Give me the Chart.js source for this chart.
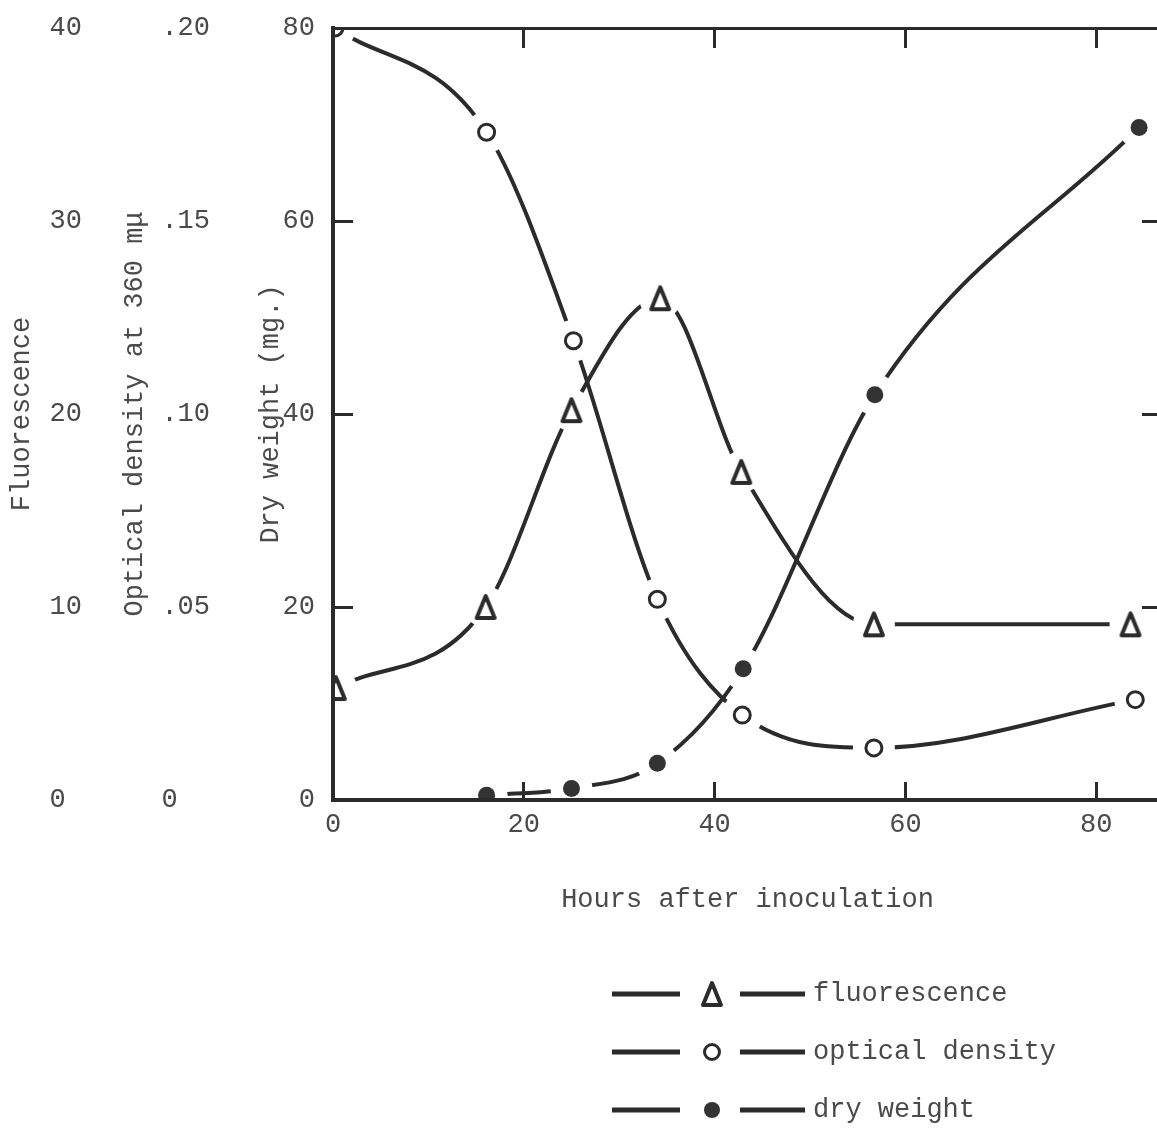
<!DOCTYPE html>
<html>
<head>
<meta charset="utf-8">
<script src="https://cdn.jsdelivr.net/npm/chart.js@4/dist/chart.umd.min.js"></script>
<style>
  html, body { margin: 0; padding: 0; background: #fff; overflow: hidden; }
  canvas { display: block; }
</style>
</head>
<body>
<canvas id="growth" width="1175" height="1131"></canvas>
<script>
// values
const hourTicks = [0, 20, 40, 60, 80];
const dryTicks = [0, 20, 40, 60, 80];
const fluorTicks = [0, 10, 20, 30, 40];
const odTicks = [0, 0.05, 0.10, 0.15, 0.20];

const fluorHours = [0.3, 16, 25, 34.3, 42.8, 56.7, 83.6];
const fluorValues = [5.8, 10, 20.2, 26, 17, 9.1, 9.1];
const odHours = [0.2, 16.1, 25.2, 34, 42.9, 56.7, 84.1];
const odValues = [0.2, 0.173, 0.119, 0.052, 0.022, 0.0135, 0.026];
const dryHours = [16.1, 25, 34, 43, 56.8, 84.5];
const dryValues = [0.5, 1.2, 3.8, 13.6, 42, 69.7];

const seriesNames = ['fluorescence', 'optical density', 'dry weight'];

const INK = '#2b2b2b';
const TEXT = '#4a4a4a';

function points(xs, ys) {
    return xs.map((x, i) => ({x: x, y: ys[i]}));
}

// tall open triangle like the typed delta
function makeTriangle() {
    const c = document.createElement('canvas');
    c.width = 24;
    c.height = 28;
    const g = c.getContext('2d');
    g.beginPath();
    g.moveTo(12, 3);
    g.lineTo(21, 25);
    g.lineTo(3, 25);
    g.closePath();
    g.fillStyle = '#fff';
    g.fill();
    g.lineWidth = 4;
    g.lineJoin = 'round';
    g.strokeStyle = INK;
    g.stroke();
    return c;
}
const triangle = makeTriangle();

const series = [
    {name: seriesNames[0], data: points(fluorHours, fluorValues), axis: 'yF',
        marker: {pointStyle: triangle, pointRadius: 11, pointBorderWidth: 0}},
    {name: seriesNames[1], data: points(odHours, odValues), axis: 'yOD',
        marker: {pointStyle: 'circle', pointRadius: 8, pointBorderWidth: 3, pointBackgroundColor: '#fff', pointBorderColor: INK}},
    {name: seriesNames[2], data: points(dryHours, dryValues), axis: 'y',
        marker: {pointStyle: 'circle', pointRadius: 8.5, pointBorderWidth: 0, pointBackgroundColor: '#333'}}
];

const datasets = [];
series.forEach(s => {
    datasets.push({label: s.name, data: s.data, yAxisID: s.axis, order: 2,
        borderColor: INK, borderWidth: 4, pointRadius: 0, cubicInterpolationMode: 'monotone'});
});
series.forEach(s => {
    // white halo so the curve breaks around each marker
    datasets.push({label: s.name + ' gap', data: s.data, yAxisID: s.axis, order: 1, showLine: false, clip: 0,
        pointRadius: 21, pointBorderWidth: 0, pointBackgroundColor: '#fff'});
});
series.forEach(s => {
    datasets.push(Object.assign({label: s.name + ' marker', data: s.data, yAxisID: s.axis, order: 0, showLine: false, clip: 0},
        s.marker));
});

function inwardTicks(len, skip) {
    return {
        drawOnChartArea: false, drawTicks: true, tickLength: len, lineWidth: 3, z: 1,
        color: c => (c.tick && skip.includes(c.tick.value)) ? 'rgba(0,0,0,0)' : INK
    };
}

// fixed box size, and no extra label padding pushed onto the layout
function fixSize(w, h) {
    return s => {
        if (w !== null) s.width = w;
        if (h !== null) s.height = h;
        s.paddingTop = 0;
        s.paddingBottom = 0;
        s.paddingLeft = 0;
        s.paddingRight = 0;
    };
}

const legendPlugin = {
    id: 'typedLegend',
    afterDraw(chart) {
        const ctx = chart.ctx;
        ctx.save();
        ctx.font = '27px "Liberation Mono", monospace';
        ctx.textBaseline = 'middle';
        ctx.fillStyle = TEXT;
        series.forEach((s, i) => {
            const y = 994 + i * 58;
            ctx.strokeStyle = INK;
            ctx.lineWidth = 5;
            ctx.beginPath();
            ctx.moveTo(612, y); ctx.lineTo(680, y);
            ctx.moveTo(740, y); ctx.lineTo(805, y);
            ctx.stroke();
            if (i === 0) {
                ctx.drawImage(triangle, 712 - 12, y - 14);
            } else {
                ctx.beginPath();
                ctx.arc(712, y, i === 1 ? 7.5 : 8, 0, Math.PI * 2);
                ctx.fillStyle = i === 1 ? '#fff' : '#333';
                ctx.fill();
                if (i === 1) { ctx.lineWidth = 3; ctx.stroke(); }
            }
            ctx.fillStyle = TEXT;
            ctx.fillText(s.name, 813, y);
        });
        ctx.restore();
    }
};

Chart.defaults.font.family = '"Liberation Mono", monospace';
Chart.defaults.font.size = 27;
Chart.defaults.color = TEXT;

new Chart(document.getElementById('growth').getContext('2d'), {
    type: 'line',
    data: {datasets: datasets},
    plugins: [legendPlugin],
    options: {
        responsive: false,
        devicePixelRatio: 1,
        animation: false,
        layout: {autoPadding: false, padding: {top: 28, right: 13, bottom: 211, left: 0}},
        plugins: {legend: {display: false}, tooltip: {enabled: false}},
        scales: {
            x: {
                type: 'linear', position: 'bottom', min: 0, max: 86.9,
                afterBuildTicks: s => { s.ticks = hourTicks.map(v => ({value: v})); },
                afterFit: fixSize(null, 120),
                ticks: {padding: 27, maxRotation: 0, autoSkip: false},
                grid: inwardTicks(-18, [0]),
                border: {display: true, color: INK, width: 4, z: 1},
                title: {display: true, text: 'Hours after inoculation', padding: {top: 0, bottom: 4}}
            },
            x2: {
                type: 'linear', position: 'top', min: 0, max: 86.9,
                afterBuildTicks: s => { s.ticks = hourTicks.map(v => ({value: v})); },
                afterFit: fixSize(null, 0),
                ticks: {display: false},
                grid: inwardTicks(-20, [0]),
                border: {display: true, color: INK, width: 3, z: 1}
            },
            yF: {
                type: 'linear', position: 'left', weight: 3, min: 0, max: 40,
                afterBuildTicks: s => { s.ticks = fluorTicks.map(v => ({value: v})); },
                afterFit: fixSize(105, null),
                ticks: {padding: 23, callback: v => v === 0 ? '0 ' : String(v)},
                grid: {display: false, drawTicks: false},
                border: {display: false},
                title: {display: true, text: 'Fluorescence', padding: {top: 6}}
            },
            yOD: {
                type: 'linear', position: 'left', weight: 2, min: 0, max: 0.2,
                afterBuildTicks: s => { s.ticks = odTicks.map(v => ({value: v})); },
                afterFit: fixSize(117, null),
                ticks: {padding: 12, callback: v => v === 0 ? '0  ' : v.toFixed(2).slice(1)},
                grid: {display: false, drawTicks: false},
                border: {display: false},
                title: {display: true, text: 'Optical density at 360 mμ', padding: {top: 14}}
            },
            y: {
                type: 'linear', position: 'left', weight: 1, min: 0, max: 80,
                afterBuildTicks: s => { s.ticks = dryTicks.map(v => ({value: v})); },
                afterFit: fixSize(111, null),
                ticks: {padding: 38},
                grid: inwardTicks(-20, [0, 80]),
                border: {display: true, color: INK, width: 4, z: 1},
                title: {display: true, text: 'Dry weight (mg.)', padding: {top: 33}}
            },
            yR: {
                type: 'linear', position: 'right', min: 0, max: 80,
                afterBuildTicks: s => { s.ticks = dryTicks.map(v => ({value: v})); },
                afterFit: fixSize(0, null),
                ticks: {display: false},
                grid: inwardTicks(-20, [0, 80]),
                border: {display: true, color: INK, width: 4, z: 1}
            }
        }
    }
});
</script>
</body>
</html>
